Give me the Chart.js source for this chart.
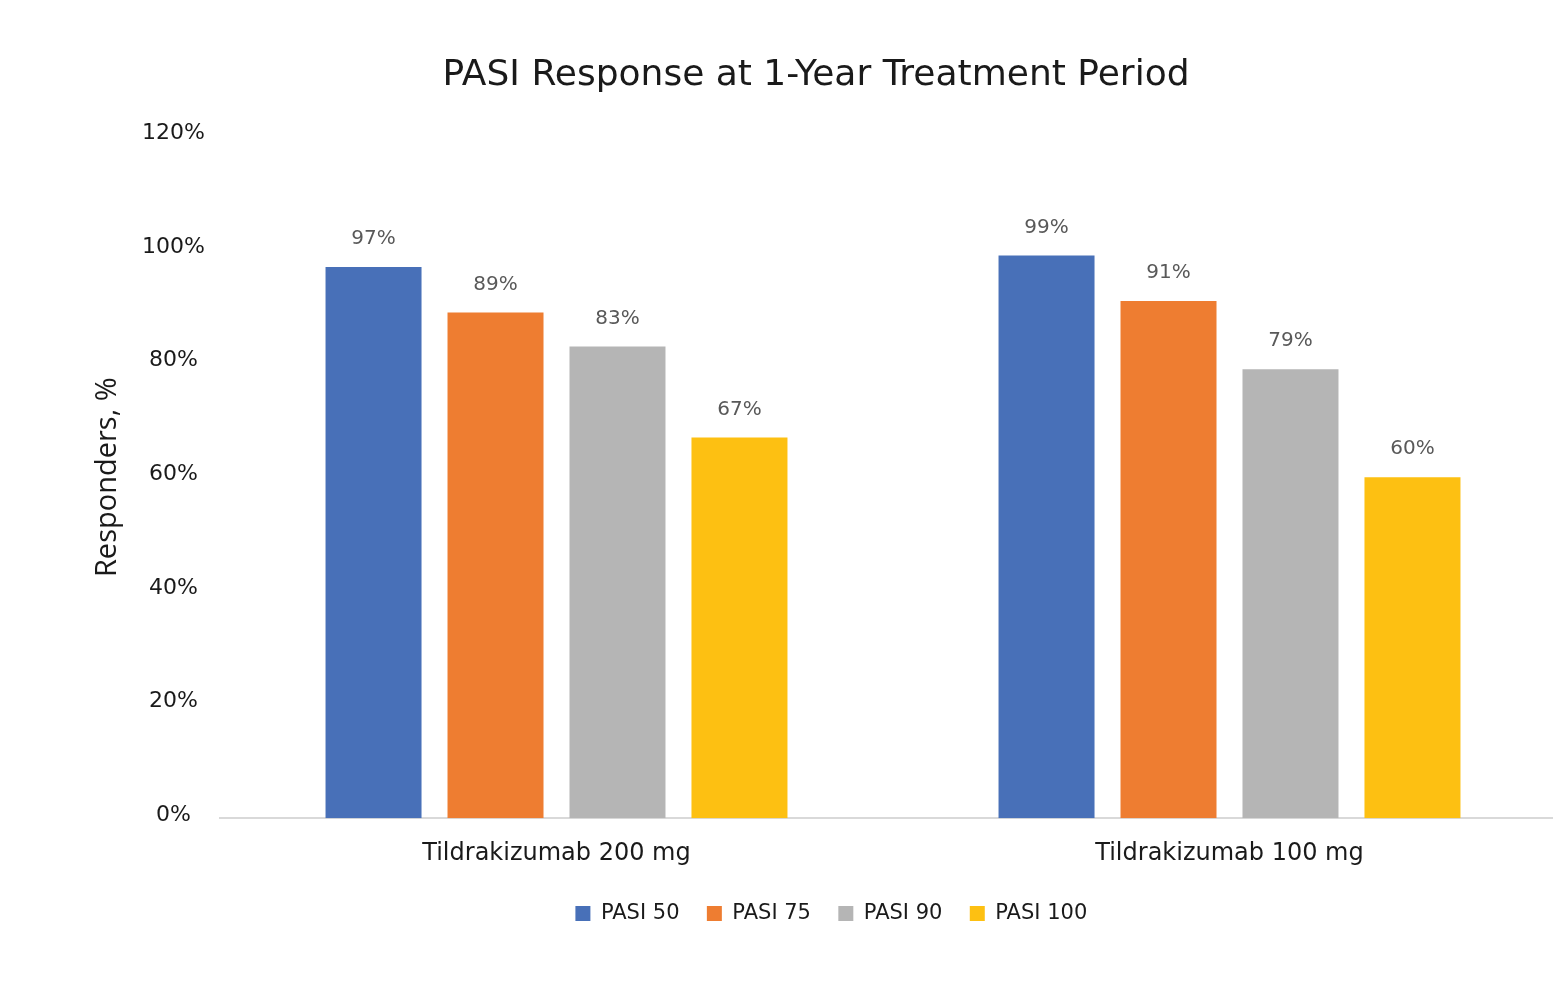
<!DOCTYPE html>
<html>
<head>
<meta charset="utf-8">
<script src="https://cdn.jsdelivr.net/npm/chart.js@4"></script>
<style>
html,body{margin:0;padding:0;background:#fff;overflow:hidden;}
#wrap{width:1566px;height:983px;}
</style>
</head>
<body>
<div id="wrap"><canvas id="c" width="1566" height="983"></canvas></div>
<script>
const categories = ["Tildrakizumab 200 mg", "Tildrakizumab 100 mg"];
const seriesNames = ["PASI 50", "PASI 75", "PASI 90", "PASI 100"];
const pasi50 = [97, 99];
const pasi75 = [89, 91];
const pasi90 = [83, 79];
const pasi100 = [67, 60];
const yTicks = [0, 20, 40, 60, 80, 100, 120];
const colors = ["#4870B8", "#EE7D31", "#B5B5B5", "#FDC012"];
const FONT = "'DejaVu Sans', Verdana, sans-serif";

const dataLabels = {
  id: 'dataLabels',
  afterDatasetsDraw(chart) {
    const ctx = chart.ctx;
    ctx.save();
    ctx.font = "20px " + FONT;
    ctx.fillStyle = "#595959";
    ctx.textAlign = "center";
    ctx.textBaseline = "bottom";
    chart.data.datasets.forEach((ds, i) => {
      const meta = chart.getDatasetMeta(i);
      meta.data.forEach((bar, j) => {
        ctx.fillText(ds.data[j] + "%", bar.x, bar.y - 18);
      });
    });
    ctx.restore();
  }
};

const legendShift = {
  id: 'legendShift',
  afterLayout(chart) {
    if (chart.legend) { chart.legend.left += 22; chart.legend.right += 22; }
  }
};

const allSeries = [pasi50, pasi75, pasi90, pasi100];
new Chart(document.getElementById('c'), {
  type: 'bar',
  data: {
    labels: categories,
    datasets: allSeries.map((d, i) => ({
      label: seriesNames[i],
      data: d,
      backgroundColor: colors[i],
      borderWidth: 0,
      barPercentage: 0.787,
      categoryPercentage: 0.725
    }))
  },
  plugins: [dataLabels, legendShift],
  options: {
    responsive: false,
    animation: false,
    devicePixelRatio: 1,
    layout: { padding: { left: 66, right: 0, top: 0, bottom: 49 } },
    plugins: {
      title: {
        display: true,
        text: "PASI Response at 1-Year Treatment Period",
        color: "#1a1a1a",
        font: { family: FONT, size: 36, weight: 'normal' },
        padding: { top: 54, bottom: 39 }
      },
      legend: {
        display: true,
        position: 'bottom',
        labels: {
          color: "#1a1a1a",
          font: { family: FONT, size: 21 },
          boxWidth: 15,
          boxHeight: 15,
          padding: 14,
          generateLabels(chart) {
            return Chart.defaults.plugins.legend.labels.generateLabels(chart).map(l => {
              l.text = l.text + "  ";
              return l;
            });
          }
        }
      },
      tooltip: { enabled: false }
    },
    scales: {
      x: {
        grid: { display: false, drawTicks: false },
        border: { display: true, color: "#D9D9D9", width: 2 },
        ticks: { color: "#1a1a1a", font: { family: FONT, size: 24 }, padding: 21 }
      },
      y: {
        min: 0,
        max: 120,
        afterBuildTicks(axis) { axis.ticks = yTicks.map(v => ({ value: v })); },
        afterFit(axis) { axis.width = 154; },
        grid: { display: false, drawTicks: false },
        border: { display: false },
        ticks: {
          color: "#1a1a1a",
          font: { family: FONT, size: 22 },
          crossAlign: 'center',
          padding: 15,
          labelOffset: -3,
          callback: v => v + "%"
        },
        title: {
          display: true,
          text: "Responders, %",
          color: "#1a1a1a",
          font: { family: "'Open Sans', sans-serif", size: 29 },
          padding: { top: 24, bottom: 0 }
        }
      }
    }
  }
});
</script>
</body>
</html>
